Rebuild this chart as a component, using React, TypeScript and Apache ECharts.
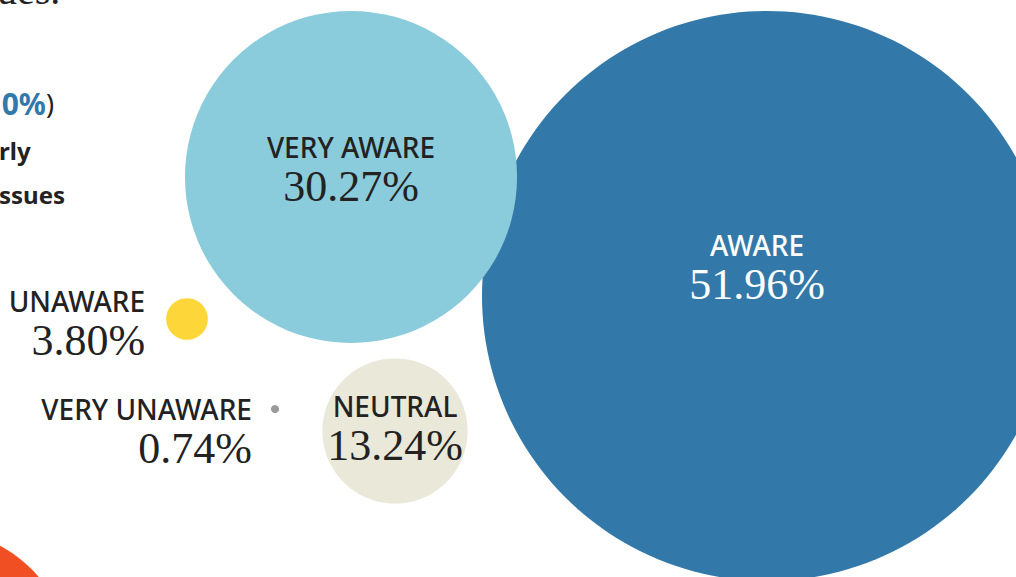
import React, { useEffect, useRef } from "react";
import * as echarts from "echarts";

// Awareness shares (%) — drawn in this order (AWARE first so VERY AWARE sits on top)
const categories = ["AWARE", "VERY AWARE", "NEUTRAL", "UNAWARE", "VERY UNAWARE"];
const shares = [51.96, 30.27, 13.24, 3.8, 0.74];
const valueLabels = ["51.96%", "30.27%", "13.24%", "3.80%", "0.74%"];

// bubble layout (chart coordinates)
const bubbleX = [767, 351, 395, 187, 275];
const bubbleY = [296, 177, 431, 319, 409];
const colors = ["#3279A9", "#8BCCDC", "#E9E8D9", "#FDD73A", "#9A9A9A"];

const SANS = "'Noto Sans', sans-serif";
const SERIF = "'Liberation Serif', serif";

export default function App() {
  const ref = useRef<HTMLDivElement>(null);
  useEffect(() => {
    if (!ref.current) return;
    const chart = echarts.init(ref.current, undefined, { renderer: "svg" });
    const richFor = (color: string, align: string) => ({
      n: {
        fontFamily: SANS,
        fontSize: 28,
        fontWeight: 500,
        color,
        lineHeight: 33,
        align,
      },
      v: {
        fontFamily: SERIF,
        fontSize: 44,
        color,
        lineHeight: 47,
        align,
      },
    });
    const insideLabel = (color: string, offset: number[]) => ({
      show: true,
      position: "inside",
      offset,
      align: "center",
      formatter: (p: any) => `{n|${p.name}}\n{v|${valueLabels[p.dataIndex]}}`,
      rich: richFor(color, "center"),
    });
    const leftLabel = (distance: number, offset: number[]) => ({
      show: true,
      position: "left",
      distance,
      offset,
      align: "right",
      formatter: (p: any) => `{n|${p.name}}\n{v|${valueLabels[p.dataIndex]}}`,
      rich: richFor("#222222", "right"),
    });
    const labels = [
      insideLabel("#ffffff", [-10, -28]),
      insideLabel("#222222", [0, -7]),
      insideLabel("#222222", [0, -2]),
      leftLabel(21, [0, 5]),
      leftLabel(19, [0, 23]),
    ];
    const data = categories.map((name, i) => ({
      name,
      value: [bubbleX[i], bubbleY[i], shares[i]],
      itemStyle: { color: colors[i], opacity: 1 },
      label: labels[i],
    }));
    chart.setOption({
      animation: false,
      backgroundColor: "#ffffff",
      grid: { left: 0, right: 0, top: 0, bottom: 0 },
      xAxis: { type: "value", min: 0, max: 1016, show: false },
      yAxis: { type: "value", min: 0, max: 577, inverse: true, show: false },
      graphic: [
        {
          type: "circle",
          shape: { cx: -60, cy: 660, r: 129 },
          style: { fill: "#F04E23" },
          z: 0,
        },
        {
          type: "text",
          x: -3,
          y: 10,
          style: {
            text: "ues.",
            font: `40px ${SERIF}`,
            fill: "#222222",
            textVerticalAlign: "bottom",
          },
        },
        {
          type: "text",
          x: 54,
          y: 103,
          style: {
            text: "{b|0%}{k|)}",
            align: "right",
            verticalAlign: "middle",
            rich: {
              b: { font: `bold 30px ${SANS}`, fill: "#3279A9" },
              k: { font: `27px ${SANS}`, fill: "#222222" },
            },
          },
        },
        {
          type: "text",
          x: -1,
          y: 150,
          style: {
            text: "rly",
            font: `bold 24px ${SANS}`,
            fill: "#222222",
            verticalAlign: "middle",
          },
        },
        {
          type: "text",
          x: -1,
          y: 194,
          style: {
            text: "ssues",
            font: `bold 24px ${SANS}`,
            fill: "#222222",
            verticalAlign: "middle",
          },
        },
      ],
      series: [
        {
          type: "scatter",
          clip: false,
          symbol: "circle",
          symbolSize: (v: number[]) => v[2] * 10.97,
          data,
          itemStyle: { opacity: 1 },
          emphasis: { disabled: true },
          z: 2,
        },
      ],
    });
    return () => chart.dispose();
  }, []);
  return (
    <div
      ref={ref}
      style={{ position: "absolute", left: 0, top: 0, width: 1016, height: 577 }}
    />
  );
}
